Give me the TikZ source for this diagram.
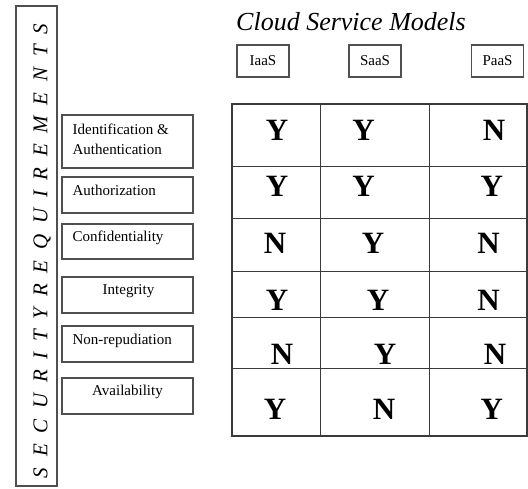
\documentclass[tikz,border=0pt]{standalone}
\usepackage{fontspec}
\setmainfont{Liberation Serif}
\newfontfamily\spacedfont[LetterSpace=51]{Liberation Serif}
\usepackage{tikz}
\usetikzlibrary{calc}

\definecolor{boxgray}{HTML}{505050}
\definecolor{gridgray}{HTML}{3A3A3A}

\tikzset{
  reqbox/.style={draw=boxgray, line width=1.2pt, minimum width=131pt, inner sep=0pt},
  reqtxt/.style={font=\fontsize{15}{20}\selectfont, inner sep=0pt, align=left},
  modelbox/.style={draw=boxgray, line width=1.2pt, minimum width=52pt, minimum height=32pt,
    inner sep=0pt, font=\fontsize{15}{18}\selectfont},
  yn/.style={font=\fontsize{31}{31}\selectfont\bfseries, inner sep=0pt}
}

\begin{document}
\begin{tikzpicture}[x=1pt,y=-1pt]
    \useasboundingbox (0,0) rectangle (528,489);

    % tall side box
    \node[draw=boxgray, line width=1.2pt, minimum width=41pt, minimum height=480pt, inner sep=0pt]
      (side) at (36.5,246) {};
    \node[rotate=90, inner sep=0pt, font=\fontsize{21}{21}\spacedfont\itshape]
      (sectxt) at (42,251) {SECURITYREQUIREMENTS};

    % title and models
    \node[anchor=base, font=\fontsize{26}{26}\selectfont\itshape] (title) at (351,31) {Cloud Service Models};
    \node[modelbox] (iaas) at (263,61) {IaaS};
    \node[modelbox] (saas) at (375,61) {SaaS};
    \node[modelbox] (paas) at (497.5,61) {PaaS};

    % requirement boxes
    \node[reqbox, minimum height=53pt] (ident) at (127.5,141.5) {};
    \node[reqbox, minimum height=36pt] (auth) at (127.5,195) {};
    \node[reqbox, minimum height=35pt] (conf) at (127.5,241.5) {};
    \node[reqbox, minimum height=36pt] (integ) at (127.5,295) {};
    \node[reqbox, minimum height=36pt] (nonrep) at (127.5,344) {};
    \node[reqbox, minimum height=36pt] (avail) at (127.5,396) {};

    \node[reqtxt, anchor=base west] (identtxt) at ($(ident.north west)+(11,40)$)
      {Identification \&\\Authentication}; % base is the last line
    \node[reqtxt, anchor=base west] (authtxt) at ($(auth.north west)+(11,19)$) {Authorization};
    \node[reqtxt, anchor=base west] (conftxt) at ($(conf.north west)+(11,18)$) {Confidentiality};
    \node[reqtxt, anchor=base] (integtxt) at ($(integ.north)+(1,18)$) {Integrity};
    \node[reqtxt, anchor=base west] (nonreptxt) at ($(nonrep.north west)+(11,19)$) {Non-repudiation};
    \node[reqtxt, anchor=base] (availtxt) at ($(avail.north)+(0,18)$) {Availability};

    % Y/N table
    \draw[gridgray, line width=1.2pt] (232,104) rectangle (527,436);
    \foreach \x in {320,429}
      \draw[gridgray, line width=1pt] (\x,104) -- (\x,436);
    \foreach \y in {167,219,272,318,369}
      \draw[gridgray, line width=1pt] (232,\y) -- (527,\y);

    \foreach \x/\y/\v [count=\i] in {
        277/130/Y, 363.5/130/Y, 494/130/N,
        277/186.5/Y, 363.5/186.5/Y, 491.7/186.5/Y,
        275/243/N, 373/243/Y, 488.5/243/N,
        277/300/Y, 378/300/Y, 488.5/300/N,
        282/354/N, 385/354/Y, 495/354/N,
        275/409/Y, 384/409/N, 491.7/409/Y}
      \node[yn] (yn\i) at (\x,\y) {\v};
\end{tikzpicture}
\end{document}
